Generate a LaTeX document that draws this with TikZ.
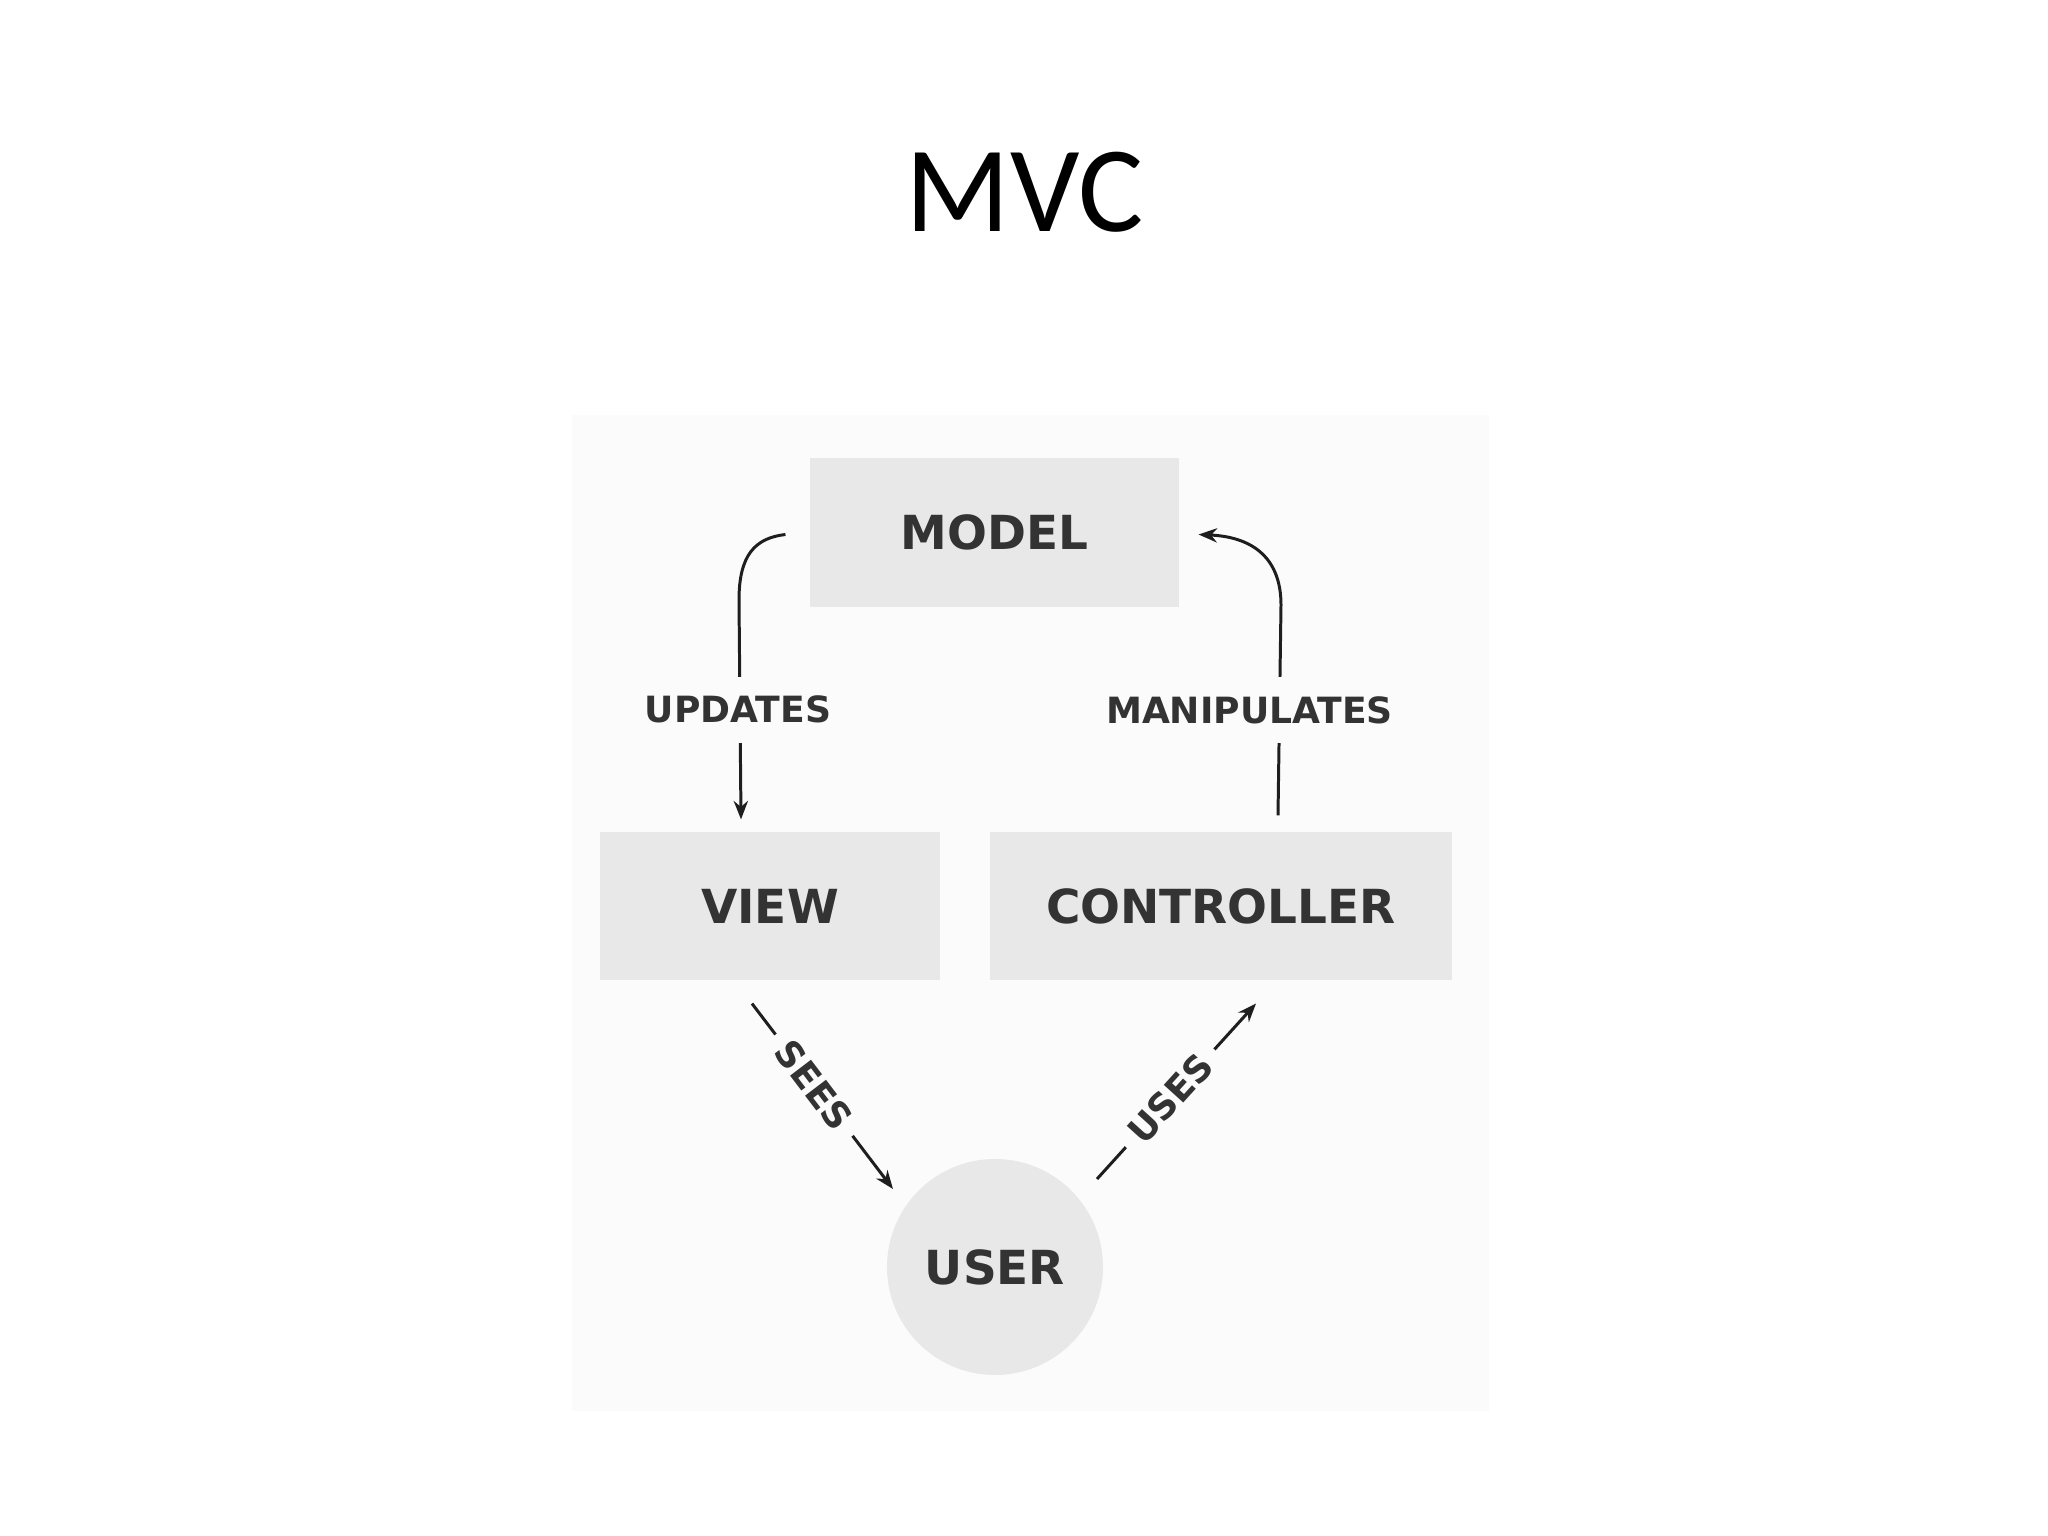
\documentclass[tikz,border=0pt]{standalone}
\usepackage{fontspec}
\setmainfont{Carlito}
\newfontfamily\dvfont{DejaVu Sans}
\usetikzlibrary{arrows.meta,calc}
\definecolor{boxbg}{HTML}{E8E8E8}
\definecolor{panelbg}{HTML}{FBFBFB}
\definecolor{txtgray}{HTML}{333333}
\definecolor{lncol}{HTML}{1E1E1E}
\def\pxs{0.3515625pt}
\begin{document}
\begin{tikzpicture}[x=0.3515625pt, y=-0.3515625pt,
  box/.style={fill=boxbg, draw=none, rectangle, inner sep=0pt,
    font=\dvfont\bfseries\fontsize{16.5}{18}\selectfont, text=txtgray},
  usernode/.style={fill=boxbg, draw=none, circle, inner sep=0pt, minimum size=216*\pxs,
    font=\dvfont\bfseries\fontsize{16.5}{18}\selectfont, text=txtgray},
  conn/.style={draw=lncol, line width=1.05pt, -{Stealth[length=6.5pt,width=5pt]}},
  lab/.style={fill=panelbg, font=\dvfont\bfseries\fontsize{12.7}{14}\selectfont, text=txtgray,
    inner xsep=4.5pt, inner ysep=6.8pt},
  title/.style={font=\fontsize{43}{50}\selectfont, text=black}
]
\useasboundingbox (0,0) rectangle (2048,1536);
\fill[white] (0,0) rectangle (2048,1536);
% title
\node[title, anchor=base] (ttl) at (1025,232) {MVC};
% panel
\fill[panelbg] (572,415) rectangle (1489,1411);
% nodes
\node[box, minimum width=369*\pxs, minimum height=149*\pxs] (model) at (994.5,532.5) {MODEL};
\node[box, minimum width=340*\pxs, minimum height=148*\pxs] (view) at (770,906) {VIEW};
\node[box, minimum width=462*\pxs, minimum height=148*\pxs] (ctrl) at (1221,906) {CONTROLLER};
\node[usernode] (user) at (995,1267) {USER};
% connector coordinates
\coordinate (u0) at ($(model.west)+(-24,2)$);
\coordinate (u1) at (739,600);
\coordinate (u2) at ($(view.north)+(-29,-12)$);
\coordinate (m0) at ($(ctrl.north)+(57,-16)$);
\coordinate (m1) at (1281,605);
\coordinate (m2) at ($(model.east)+(19,2)$);
\coordinate (s0) at ($(view.south)+(-18,23)$);
\coordinate (s1) at ($(user.center)+(-102,-78)$);
\coordinate (w0) at ($(user.center)+(102,-88)$);
\coordinate (w1) at ($(ctrl.south)+(35,23)$);
% connectors
\draw[conn] (u0) .. controls (755,538) and (739,555) .. (u1) -- node[lab, xshift=-2*\pxs] {UPDATES} (u2);
\draw[conn] (m0) -- node[lab, xshift=-30*\pxs] {MANIPULATES} (m1) .. controls (1281,560) and (1255,537) .. (m2);
\draw[conn] (s0) -- node[lab, sloped, pos=0.44] {SEES} (s1);
\draw[conn] (w0) -- node[lab, sloped, pos=0.46] {USES} (w1);
\end{tikzpicture}
\end{document}
